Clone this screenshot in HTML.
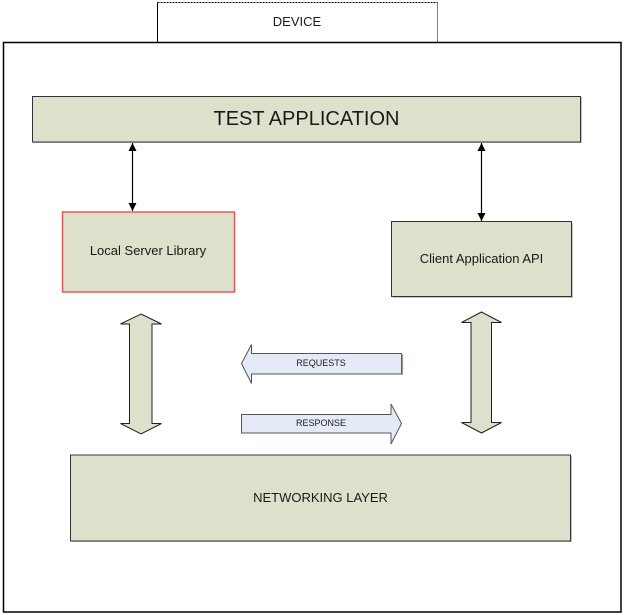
<!DOCTYPE html>
<html><head><meta charset="utf-8"><style>
html,body{margin:0;padding:0;background:#fff;width:624px;height:615px;overflow:hidden}
svg{display:block}
text{font-family:"Liberation Sans",Arial,sans-serif;fill:#1a1a1a}
</style></head><body>
<svg width="624" height="615" viewBox="0 0 624 615" xmlns="http://www.w3.org/2000/svg">
<defs>
<marker id="ah" viewBox="0 0 10 10" refX="10" refY="5" markerWidth="8" markerHeight="8" markerUnits="userSpaceOnUse" orient="auto-start-reverse">
<path d="M0,0 L10,5 L0,10 z" fill="#000"/>
</marker>
</defs>
<!-- device tab -->
<line x1="157.5" y1="2.5" x2="157.5" y2="42" stroke="#000" stroke-width="1"/>
<line x1="157.5" y1="2.5" x2="437.5" y2="2.5" stroke="#000" stroke-width="1" stroke-dasharray="2,1"/>
<line x1="437.5" y1="2.5" x2="437.5" y2="42" stroke="#000" stroke-width="1" stroke-dasharray="1,1"/>
<text x="297" y="26" font-size="13" text-anchor="middle">DEVICE</text>
<!-- outer box -->
<rect x="3.5" y="42.5" width="617.5" height="569.5" fill="none" stroke="#000" stroke-width="1.5"/>

<!-- test app -->
<rect x="33" y="97" width="549" height="46" fill="#888" opacity="0.5"/>
<rect x="32.5" y="96.5" width="548" height="45.5" fill="#dde0ca" stroke="#333" stroke-width="1"/>
<text x="306.5" y="125" font-size="20" text-anchor="middle">TEST APPLICATION</text>

<!-- connectors -->
<line x1="132.5" y1="143" x2="132.5" y2="211" stroke="#000" stroke-width="1.2" marker-start="url(#ah)" marker-end="url(#ah)"/>
<line x1="481.5" y1="143" x2="481.5" y2="221" stroke="#000" stroke-width="1.2" marker-start="url(#ah)" marker-end="url(#ah)"/>

<!-- local server -->
<rect x="62.5" y="212" width="172" height="80" fill="#dde0ca" stroke="#f05858" stroke-width="1.5"/>
<text x="148" y="255" font-size="13" text-anchor="middle">Local Server Library</text>

<!-- client api -->
<rect x="393" y="223" width="180" height="75" fill="#888" opacity="0.5"/>
<rect x="391.5" y="221.5" width="180" height="75" fill="#dde0ca" stroke="#333" stroke-width="1"/>
<text x="481.5" y="263" font-size="13" text-anchor="middle">Client Application API</text>

<!-- vertical block arrows -->
<g stroke="#222" stroke-width="1" fill="#dde0ca">
<path d="M141,314 L161.5,324 L152,324 L152,423.5 L161.5,423.5 L141,434 L120.5,423.5 L129.5,423.5 L129.5,324 L120.5,324 Z"/>
<path d="M481.5,312 L501.5,322.5 L491.5,322.5 L491.5,422.5 L501.5,422.5 L481.5,433 L461.5,422.5 L471,422.5 L471,322.5 L461.5,322.5 Z"/>
</g>

<!-- horizontal block arrows -->
<g stroke="#555" stroke-width="1" fill="#e5ebf6">
<path d="M241.5,363.5 L251.5,344.5 L251.5,353.5 L401.5,353.5 L401.5,374 L251.5,374 L251.5,383.5 Z"/>
<path d="M241.5,414.5 L391,414.5 L391,404 L401.5,423.5 L391,444 L391,433 L241.5,433 Z"/>
</g>
<line x1="402.5" y1="354.5" x2="402.5" y2="375" stroke="#999" stroke-width="1.2"/>
<text x="321" y="366" font-size="9" text-anchor="middle">REQUESTS</text>
<text x="321" y="426" font-size="9" text-anchor="middle">RESPONSE</text>

<!-- networking -->
<rect x="72" y="456" width="500" height="86" fill="#888" opacity="0.5"/>
<rect x="70.5" y="455" width="500" height="86" fill="#dde0ca" stroke="#333" stroke-width="1"/>
<text x="320.5" y="502" font-size="13" text-anchor="middle">NETWORKING LAYER</text>
</svg>
</body></html>
